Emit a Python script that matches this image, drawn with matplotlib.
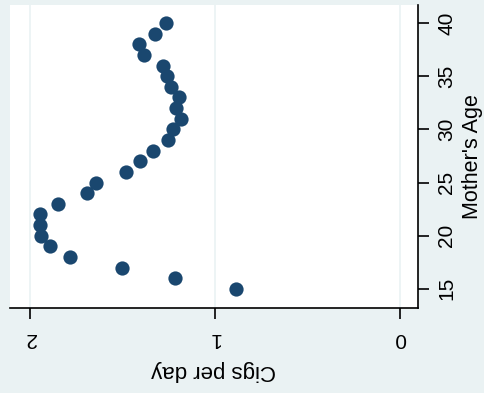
import matplotlib
matplotlib.use("Agg")
import matplotlib.pyplot as plt

ages = [15, 16, 17, 18, 19, 20, 21, 22, 23, 24, 25, 26, 27, 28, 29, 30,
        31, 32, 33, 34, 35, 36, 37, 38, 39, 40]
cigs = [0.888, 1.216, 1.501, 1.782, 1.892, 1.942, 1.948, 1.948, 1.847, 1.690,
        1.641, 1.481, 1.405, 1.333, 1.256, 1.229, 1.184, 1.212, 1.195, 1.240,
        1.261, 1.279, 1.382, 1.409, 1.324, 1.266]
xticks = [0, 1, 2]
yticks = [15, 20, 25, 30, 35, 40]

plt.rcParams['font.family'] = ['Liberation Sans', 'DejaVu Sans']
bg = '#EAF2F3'
fig = plt.figure(figsize=(4.84, 3.93), dpi=100, facecolor=bg)
ax = fig.add_axes([10/484, 1 - 308/393, 408/484, 303/393])
ax.set_facecolor('white')
ax.scatter(cigs, ages, s=105, color='#1A476F', zorder=3, linewidths=0)
ax.set_xlim(2.108, -0.097)
ax.set_ylim(13.2, 41.7)
ax.set_xticks(xticks)
ax.set_xticklabels([str(t) for t in xticks], rotation=180, fontsize=15)
ax.set_yticks(yticks)
ax.set_yticklabels([str(t) for t in yticks], rotation=90, fontsize=15, va='center')
ax.yaxis.tick_right()
ax.yaxis.set_label_position('right')
ax.set_ylabel("Mother's Age", rotation=90, fontsize=15.5, labelpad=4)
ax.set_xlabel("Cigs per day", rotation=180, fontsize=16, labelpad=9)
ax.grid(axis='x', color=bg, linewidth=1.2, zorder=0)
for s in ['top', 'left']:
    ax.spines[s].set_visible(False)
for s in ['bottom', 'right']:
    ax.spines[s].set_linewidth(1.2)
ax.tick_params(axis='both', length=8, width=1.2)
ax.tick_params(axis='x', pad=7)
ax.tick_params(axis='y', pad=6)
fig.savefig('out.png', dpi=100, facecolor=bg)
